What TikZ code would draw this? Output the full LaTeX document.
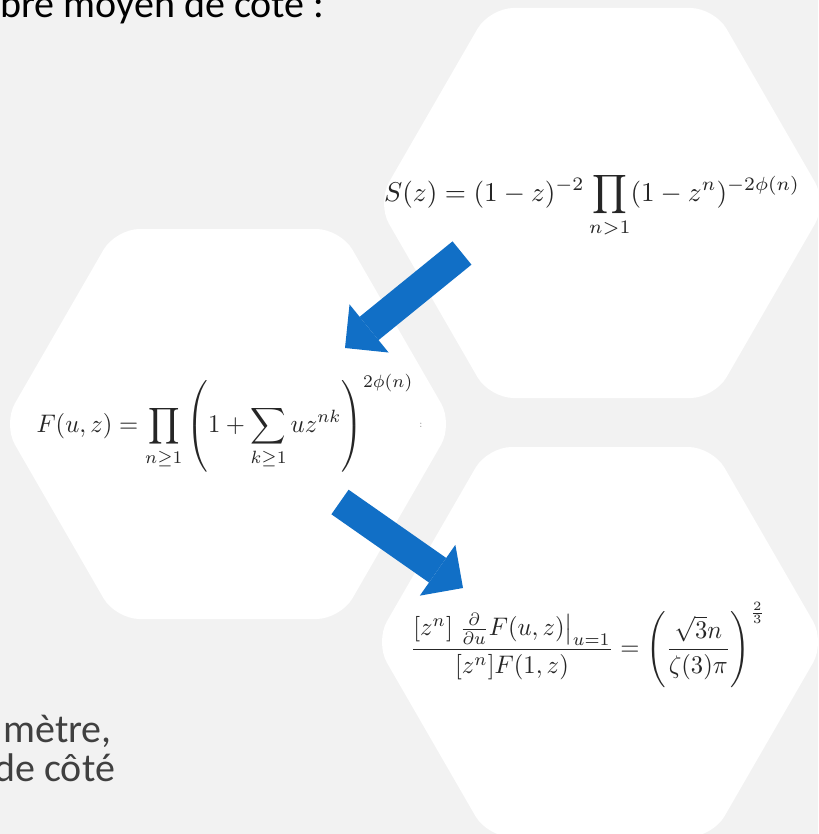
\documentclass[tikz,border=0pt]{standalone}
\usepackage{amsmath, amssymb}
\usepackage{graphicx}
\usepackage{fontspec}
\usepackage{tikz}
\usetikzlibrary{arrows.meta, positioning}
\newfontfamily\slidefont{Carlito}
\definecolor{slidebg}{RGB}{242,242,242}
\definecolor{blue1}{RGB}{17,111,198}
\definecolor{gray2}{RGB}{64,64,64}
\newcommand{\fm}[1]{\scalebox{1.36}{$\displaystyle #1$}}
\newcommand{\fs}[1]{\scalebox{1.23}[1.27]{$\displaystyle #1$}}

\begin{document}
\begin{tikzpicture}[
  x=0.5pt, y=-0.5pt,
  hexcell/.style={fill=white, rounded corners=12pt},
  formula/.style={inner sep=0pt, text=black!85},
  slide/.style={inner sep=0pt, anchor=base west,
                font=\slidefont\fontsize{20}{24}\selectfont},
  bigarrow/.style={draw=blue1, line width=15pt,
    -{Triangle[length=15.5pt 0 0, width=31pt 0 0, line width=0pt 0 0, fill=blue1]}},
]
\clip (0,0) rectangle (818,834);
\fill[slidebg] (0,0) rectangle (818,834);

% hexagonal cells, centres in px
\foreach \cx/\cy in {602/203, 228/424, 600/642}
  \fill[hexcell] (\cx-225,\cy) -- (\cx-112.5,\cy-195) -- (\cx+112.5,\cy-195)
    -- (\cx+225,\cy) -- (\cx+112.5,\cy+195) -- (\cx-112.5,\cy+195) -- cycle;

\node[formula] (gen) at (592,205)
  {\fm{S(z)=(1-z)^{-2}\prod_{n>1}(1-z^n)^{-2\phi(n)}}};
\node[formula] (biv) at (225,423)
  {\fs{F(u,z)=\prod_{n\geq 1}\left(1+\sum_{k\geq 1}uz^{nk}\right)^{2\phi(n)}}};
\node[font=\tiny, text=black!40] (colon) at (421,425) {:};
\node[formula] (mean) at (588,645)
  {\fs{\frac{[z^n]\;\frac{\partial}{\partial u}F(u,z)\big|_{u=1}}{[z^n]F(1,z)}
       =\left(\frac{\sqrt{3}n}{\zeta(3)\pi}\right)^{\frac{2}{3}}}};

\coordinate (a1s) at (462,253);
\coordinate (a1e) at (345,348);
\coordinate (a2s) at (340,502);
\coordinate (a2e) at (463,588);
\draw[bigarrow] (a1s) -- (a1e);
\draw[bigarrow] (a2s) -- (a2e);

\node[slide] (title) at (0,18) {bre moyen de côté :};
\node[slide, text=gray2] (line1) at (3,742) {mètre,};
\node[slide, text=gray2] (line2) at (-6,781) {de côté};

\end{tikzpicture}
\end{document}
